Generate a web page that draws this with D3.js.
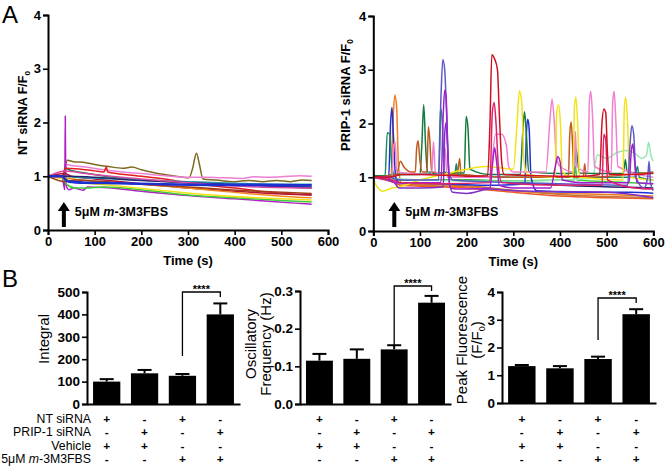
<!DOCTYPE html>
<html><head><meta charset="utf-8">
<script src="https://cdn.jsdelivr.net/npm/d3@7"></script>
<style>
body{margin:0;background:#fff}
svg{display:block}
text{font-family:"Liberation Sans",Arial,sans-serif;fill:#000}
</style>
</head><body><svg id="c" width="667" height="467"></svg>
<script>
// ---------------- DATA ----------------
const timeTicks = [0,100,200,300,400,500,600];
const ffTicks = [0,1,2,3,4];

// NT siRNA traces: [time (s), F/F0]
const ntTraces = [
 [[0,1.0],[20,1.01],[32,0.99],[37,1.2],[42,1.3],[55,1.27],[75,1.26],[100,1.22],[130,1.18],[160,1.15],[180,1.17],[200,1.12],[230,1.06],[260,1.02],[290,0.98],[302,0.97],[310,1.15],[318,1.43],[325,1.2],[332,0.95],[360,0.93],[400,0.9],[430,0.92],[460,0.9],[490,0.92],[520,0.9],[545,0.93],[565,0.92]],
 [[0,1.0],[30,1.0],[36,1.05],[40,1.22],[50,1.2],[80,1.17],[120,1.12],[160,1.08],[200,1.05],[250,1.01],[300,0.98],[340,0.98],[380,0.97],[420,0.96],[440,0.99],[470,0.98],[500,0.99],[540,1.01],[565,1.0]],
 [[0,1.0],[30,0.98],[34,0.82],[36,0.75],[37,2.12],[38,1.0],[40,0.8],[45,0.75],[55,0.78],[75,0.74],[85,0.8],[120,0.79],[200,0.72],[300,0.64],[400,0.58],[480,0.53],[530,0.5],[565,0.48]],
 [[0,1.0],[30,0.98],[38,1.15],[45,1.12],[80,1.06],[130,0.99],[200,0.93],[300,0.88],[400,0.85],[500,0.82],[565,0.8]],
 [[0,1.0],[30,1.0],[38,1.15],[60,1.14],[100,1.1],[120,1.08],[125,1.17],[128,1.08],[180,1.02],[250,0.95],[300,0.88],[400,0.78],[480,0.7],[565,0.65]],
 [[0,1.0],[35,1.05],[50,1.0],[100,0.95],[200,0.86],[300,0.78],[400,0.72],[500,0.67],[565,0.65]],
 [[0,1.0],[30,0.97],[40,0.85],[60,0.78],[80,0.78],[120,0.8],[200,0.75],[300,0.65],[400,0.6],[500,0.55],[565,0.52]],
 [[0,1.0],[35,0.95],[60,0.9],[150,0.82],[250,0.73],[350,0.65],[450,0.6],[565,0.56]],
 [[0,1.0],[35,0.97],[80,0.92],[200,0.85],[300,0.78],[400,0.7],[500,0.63],[565,0.6]],
 [[0,1.0],[35,1.0],[60,0.98],[150,0.95],[300,0.9],[400,0.87],[500,0.85],[565,0.85]],
 [[0,1.0],[40,1.0],[200,0.92],[350,0.86],[565,0.78]],
 [[0,1.0],[36,0.9],[60,0.93],[150,0.88],[300,0.8],[450,0.72],[565,0.68]],
 [[0,1.0],[38,1.1],[80,1.05],[200,0.95],[300,0.88],[450,0.8],[565,0.78]],
 [[0,1.0],[30,1.0],[36,0.95],[45,0.9],[80,0.88],[150,0.87],[250,0.85],[350,0.84],[450,0.84],[565,0.83]]
];

// PRIP-1 siRNA traces
const prTraces = [
 [[0,1.0],[38,1.0],[42,2.0],[46,2.53],[50,2.3],[54,1.2],[60,0.9],[100,0.85],[200,0.82],[300,0.75],[400,0.7],[500,0.68],[600,0.65]],
 [[0,1.0],[50,0.95],[200,0.95],[400,0.85],[600,0.8]],
 [[0,1.0],[40,1.0],[50,0.95],[100,0.95],[200,0.95],[300,0.93],[400,0.95],[430,0.95],[433,1.2],[437,0.95],[500,0.92],[600,0.88]],
 [[0,1.0],[45,0.9],[60,0.85],[200,0.8],[300,0.72],[400,0.65],[500,0.62],[600,0.6]],
 [[0,1.02],[45,0.95],[60,0.88],[200,0.84],[300,0.76],[400,0.68],[500,0.64],[600,0.62]],
 [[0,1.0],[100,0.95],[300,0.92],[470,0.98],[480,1.42],[500,1.35],[520,1.45],[540,1.5],[560,1.45],[575,1.35],[585,1.4],[590,1.65],[595,1.4],[600,1.3]],
 [[0,1.0],[33,1.0],[37,2.0],[40,2.3],[43,1.8],[48,1.0],[55,0.9],[150,0.88],[200,0.86],[250,0.85],[325,0.88],[328,1.8],[331,2.08],[334,1.9],[338,1.0],[350,0.75],[450,0.72],[550,0.72],[600,0.7]],
 [[0,1.0],[25,1.0],[30,1.83],[35,1.8],[40,1.2],[45,1.05],[140,1.07],[144,2.29],[148,2.0],[152,1.1],[175,1.07],[178,1.25],[181,1.05],[300,1.0],[560,1.0],[566,1.2],[570,1.0],[600,0.95]],
 [[0,1.03],[30,1.03],[45,1.05],[100,1.05],[104,1.6],[108,2.35],[112,1.6],[116,1.1],[150,1.08],[195,1.08],[199,2.13],[203,1.9],[207,1.15],[250,1.05],[315,1.05],[320,1.8],[324,2.22],[328,1.8],[333,1.1],[400,1.07],[430,1.08],[434,1.55],[438,1.3],[442,1.08],[500,1.07],[536,1.07],[540,1.33],[544,1.1],[600,1.07]],
 [[0,1.0],[50,1.05],[58,1.3],[65,1.2],[80,1.1],[90,1.1],[93,1.55],[96,1.68],[100,1.3],[105,1.1],[115,1.1],[118,1.94],[121,1.7],[125,1.1],[180,1.05],[185,1.35],[188,1.05],[300,1.0],[418,1.0],[421,1.8],[424,2.03],[427,1.6],[430,1.0],[450,1.0],[453,1.25],[456,1.0],[600,1.1]],
 [[0,1.0],[40,1.0],[44,1.6],[47,1.65],[50,1.1],[125,1.05],[129,1.66],[133,1.1],[150,1.05],[154,1.55],[158,1.0],[250,1.0],[262,1.8],[275,1.8],[285,1.6],[290,1.2],[300,1.1],[370,1.1],[378,2.0],[383,2.45],[388,2.0],[392,1.4],[400,1.2],[430,1.1],[433,1.85],[436,1.2],[460,1.1],[463,2.4],[466,2.6],[470,2.1],[474,1.2],[510,1.1],[513,2.4],[516,2.6],[520,2.0],[524,1.2],[600,1.0]],
 [[0,0.95],[10,0.8],[20,0.74],[40,0.8],[55,0.82],[100,0.95],[150,1.05],[200,1.15],[240,1.2],[300,1.15],[308,2.0],[313,2.61],[318,2.4],[323,1.3],[330,1.05],[390,1.0],[393,2.2],[397,2.35],[401,2.0],[405,1.1],[428,1.0],[431,2.3],[434,2.49],[438,2.0],[442,1.0],[535,0.95],[538,2.3],[541,2.49],[545,2.0],[549,1.0],[600,0.95]],
 [[0,1.0],[45,0.9],[55,0.8],[100,0.8],[150,0.82],[153,1.8],[156,2.02],[159,1.6],[163,0.9],[170,0.72],[200,0.7],[250,0.78],[300,0.75],[500,0.72],[600,0.62]],
 [[0,1.0],[30,1.0],[60,0.95],[140,0.95],[145,2.5],[149,3.19],[153,3.0],[157,2.2],[162,1.1],[170,0.95],[300,0.9],[400,0.88],[545,0.85],[550,1.6],[554,1.96],[558,1.8],[563,1.0],[580,0.8],[588,1.0],[591,1.3],[594,0.9],[600,0.75]],
 [[0,1.0],[30,1.0],[40,0.92],[50,0.9],[100,0.9],[145,0.9],[150,2.2],[153,2.62],[156,2.5],[160,1.4],[165,0.8],[180,0.78],[200,0.78],[250,0.8],[255,1.2],[260,1.55],[264,1.3],[270,0.85],[300,0.8],[380,0.8],[390,1.2],[395,1.38],[400,1.3],[405,0.95],[450,0.9],[548,0.9],[553,1.5],[556,1.62],[560,1.3],[565,0.9],[600,0.88]],
 [[0,1.0],[40,0.95],[60,0.9],[150,0.88],[250,0.9],[255,2.2],[259,2.39],[263,2.0],[268,1.2],[275,0.9],[400,0.85],[490,0.85],[494,1.8],[498,1.7],[502,0.95],[560,0.8],[600,0.78]],
 [[0,1.02],[30,1.0],[45,1.02],[60,1.05],[100,1.05],[200,1.02],[245,1.03],[250,2.0],[254,3.28],[260,3.2],[266,3.0],[270,2.2],[275,1.3],[280,1.05],[350,1.03],[450,1.02],[485,1.05],[490,2.0],[494,2.27],[498,2.2],[502,1.4],[506,1.05],[560,1.05],[600,1.08]]
];

// Panel B
const groupLabels = ["NT siRNA","PRIP-1 siRNA","Vehicle","5μM m-3M3FBS"];
const signs = [["+","-","+","-"],["-","+","-","+"],["+","+","-","-"],["-","-","+","+"]];
const integralMean = [100,137,126,400];
const integralSem = [11,15,8,49];
const integralTicks = [0,100,200,300,400,500];
const freqMean = [0.115,0.12,0.145,0.269];
const freqSem = [0.018,0.025,0.011,0.018];
const freqTicks = [0,0.1,0.2,0.3];
const peakMean = [1.33,1.25,1.585,3.2];
const peakSem = [0.04,0.08,0.085,0.18];
const peakTicks = [0,1,2,3,4];
const sigLabel = "****";

// ---------------- STYLES ----------------
const ntColors = ["#7d6a1e","#ef7fd6","#b01fc8","#1b7f4f","#e21e1e","#b51238","#3fcf3a","#f2e21a","#f28a1e","#2b9aa8","#24246e","#a0401a","#d64aa6","#1e2fd2"];
const ntWidths = [1.5,1.5,1.5,1.5,1.5,1.5,1.5,1.5,1.5,1.5,1.5,1.5,1.5,2.6];
const prColors = ["#f07a1e","#24246e","#3fcf3a","#f05a28","#c8783a","#98e8b4","#2030d0","#1a8a6a","#157a40","#c05a20","#f080d0","#f2e21a","#7d30c8","#5a5ac8","#a020d0","#e0206a","#d01020"];

// ---------------- DRAW ----------------
const svg = d3.select("#c");
svg.append("rect").attr("width",667).attr("height",467).attr("fill","#fff");

function styleAxis(g, fs){
  g.select(".domain").attr("stroke","#000").attr("stroke-width",2);
  g.selectAll(".tick line").attr("stroke","#000").attr("stroke-width",1.6);
  g.selectAll(".tick text").attr("font-size",fs).attr("font-weight","bold")
   .attr("font-family",'"Liberation Sans",Arial,sans-serif').attr("fill","#000");
}

function tracePanel(x0,x1,y0,y1,traces,colors,widths,arrowT,ylabel,ylx,yly,ylfs){
  const x = d3.scaleLinear().domain([0,600]).range([x0,x1]);
  const y = d3.scaleLinear().domain([0,4]).range([y0,y1]);
  const g = svg.append("g");
  const line = d3.line().x(d=>x(d[0])).y(d=>y(d[1])).curve(d3.curveMonotoneX);
  traces.forEach((tr,i)=>{
    g.append("path").attr("d",line(tr)).attr("fill","none")
     .attr("stroke",colors[i]).attr("stroke-width", widths ? widths[i] : 1.5).attr("stroke-linejoin","round");
  });
  const ya = g.append("g").attr("transform",`translate(${x0},0)`)
    .call(d3.axisLeft(y).tickValues(ffTicks).tickSize(5).tickPadding(2).tickFormat(d3.format("d")));
  styleAxis(ya,13);
  const xa = g.append("g").attr("transform",`translate(0,${y0})`)
    .call(d3.axisBottom(x).tickValues(timeTicks).tickSize(5).tickPadding(2));
  styleAxis(xa,13);
  g.append("text").attr("x",(x0+x1)/2).attr("y",y0+35).attr("text-anchor","middle")
   .attr("font-size",13).attr("font-weight","bold").text("Time (s)");
  const yl = g.append("text").attr("transform",`translate(${ylx},${yly}) rotate(-90)`)
   .attr("text-anchor","middle").attr("font-size",ylfs).attr("font-weight","bold");
  yl.append("tspan").text(ylabel+" F/F");
  yl.append("tspan").attr("font-size",ylfs*0.65).attr("dy",3).text("0");
  // arrow
  const ax = x(arrowT);
  g.append("path").attr("d",`M${ax-2},227 L${ax-2},211 L${ax-6},211 L${ax},202 L${ax+6},211 L${ax+2},211 L${ax+2},227 Z`).attr("fill","#000");
  const t = g.append("text").attr("x",ax+11).attr("y",216).attr("font-size",12.5).attr("font-weight","bold");
  t.append("tspan").text("5μM ");
  t.append("tspan").attr("font-style","italic").text("m");
  t.append("tspan").text("-3M3FBS");
}

tracePanel(48,328,230,15,ntTraces,ntColors,ntWidths,34,"NT siRNA",27,113,12.5);
tracePanel(373.3,653.3,231,16,prTraces,prColors,null,45,"PRIP-1 siRNA",350,95,13);

svg.append("text").attr("x",2).attr("y",23).attr("font-size",24).text("A");
svg.append("text").attr("x",2).attr("y",287).attr("font-size",24).text("B");

const rowY = [422.5,436,449.5,463];

function barPanel(ax0,ax1,yb,yt,dmax,mean,sem,ticks,fmt,sig,labels){
  const x = d3.scaleBand().domain(d3.range(4)).range([ax0,ax1]).paddingInner(0.28).paddingOuter(0.16);
  const y = d3.scaleLinear().domain([0,dmax]).range([yb,yt]);
  const g = svg.append("g");
  mean.forEach((m,i)=>{
    const cx = x(i)+x.bandwidth()/2;
    g.append("line").attr("x1",cx).attr("x2",cx).attr("y1",y(m)).attr("y2",y(m+sem[i])).attr("stroke","#000").attr("stroke-width",2);
    g.append("line").attr("x1",cx-7).attr("x2",cx+7).attr("y1",y(m+sem[i])).attr("y2",y(m+sem[i])).attr("stroke","#000").attr("stroke-width",2);
    g.append("rect").attr("x",x(i)).attr("width",x.bandwidth()).attr("y",y(m)).attr("height",yb-y(m)).attr("fill","#000");
  });
  const ya = g.append("g").attr("transform",`translate(${ax0},0)`)
    .call(d3.axisLeft(y).tickValues(ticks).tickSize(5).tickPadding(2).tickFormat(fmt));
  styleAxis(ya,13.5);
  const xa = g.append("g").attr("transform",`translate(0,${yb})`)
    .call(d3.axisBottom(x).tickSize(0).tickFormat(""));
  styleAxis(xa,13.5);
  // significance bracket
  const c3 = x(2)+x.bandwidth()/2, c4 = x(3)+x.bandwidth()/2;
  g.append("path").attr("d",`M${c3},${sig.low} L${c3},${sig.top} L${c4},${sig.top} L${c4},${sig.top+5}`)
   .attr("fill","none").attr("stroke","#000").attr("stroke-width",1.3);
  g.append("text").attr("x",(c3+c4)/2).attr("y",sig.top+1).attr("text-anchor","middle")
   .attr("font-size",11).attr("font-weight","bold").text(sigLabel);
  // signs table
  signs.forEach((row,r)=>{
    row.forEach((s,i)=>{
      g.append("text").attr("x",x(i)+x.bandwidth()/2).attr("y",rowY[r]).attr("text-anchor","middle")
       .attr("font-size",11.8).attr("font-weight","bold").text(s);
    });
  });
  // y label
  const yl = g.append("text").attr("transform",`translate(${labels.x},${labels.y}) rotate(-90)`)
   .attr("text-anchor","middle").attr("font-size",15);
  labels.lines.forEach((ln,k)=>{
    const ts = yl.append("tspan").attr("x",0).attr("dy",k===0?0:15);
    if(ln.sub){ ts.text(ln.text); yl.append("tspan").attr("font-size",9).attr("dy",3).text(ln.sub); yl.append("tspan").attr("dy",-3).text(ln.after); }
    else ts.text(ln.text);
  });
}

barPanel(87,240,404,292,500,integralMean,integralSem,integralTicks,d3.format("d"),{top:292,low:356},{x:49,y:339,lines:[{text:"Integral"}]});
barPanel(300,451,404,291,0.3,freqMean,freqSem,freqTicks,d3.format(".1f"),{top:286,low:348},{x:256,y:344,lines:[{text:"Oscillatory"},{text:"Frequency (Hz)"}]});
barPanel(502,656,403,292,4,peakMean,peakSem,peakTicks,d3.format("d"),{top:298,low:340},{x:467,y:340,lines:[{text:"Peak Fluorescence"},{text:"(F/F",sub:"0",after:")"}]});

// row labels
groupLabels.forEach((lab,r)=>{
  const t = svg.append("text").attr("x",91).attr("y",rowY[r]).attr("text-anchor","end").attr("font-size",12.3);
  if(lab.indexOf(" m-")>=0){
    t.append("tspan").text("5μM ");
    t.append("tspan").attr("font-style","italic").text("m");
    t.append("tspan").text("-3M3FBS");
  } else t.text(lab);
});
</script>
</body></html>
